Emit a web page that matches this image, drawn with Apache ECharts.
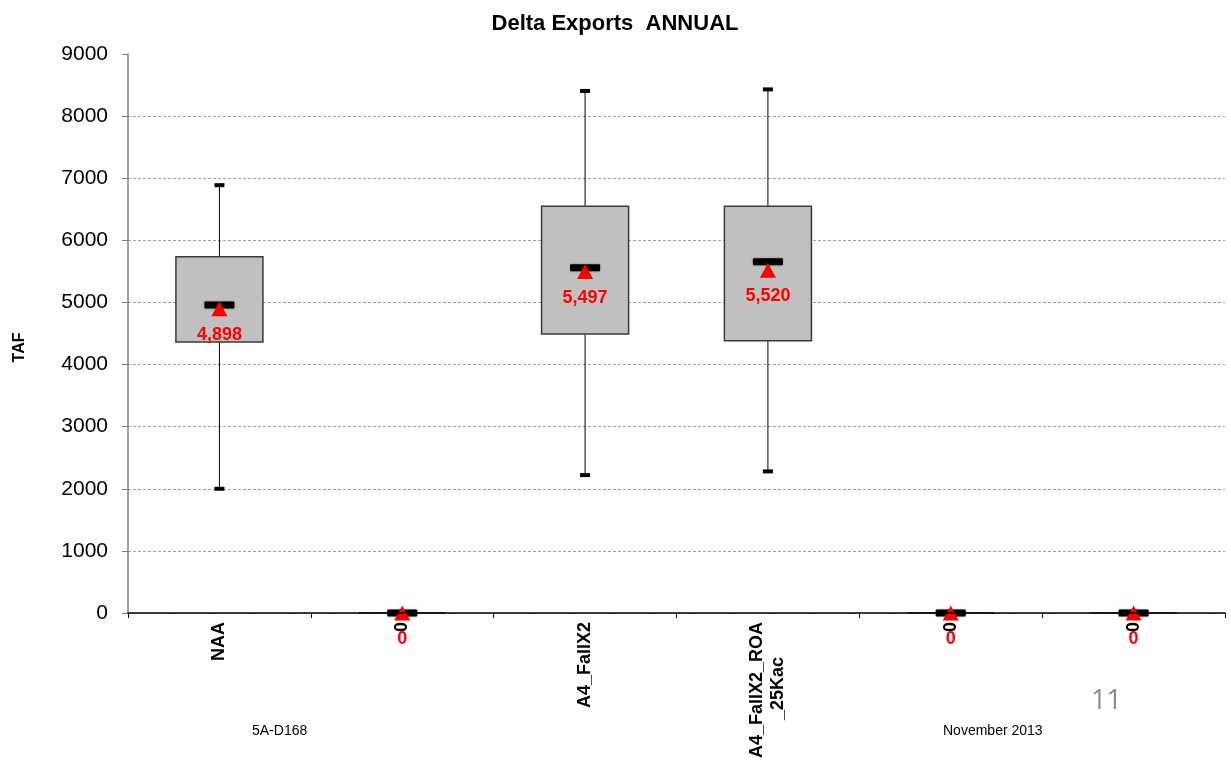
<!DOCTYPE html>
<html>
<head>
<meta charset="utf-8">
<script src="https://cdn.jsdelivr.net/npm/echarts@6/dist/echarts.min.js"></script>
<style>
html,body{margin:0;padding:0;background:#fff;}
#chart{width:1231px;height:763px;}
</style>
</head>
<body>
<div id="chart"></div>
<script>
const categories = ['NAA', '0', 'A4_FallX2', 'A4_FallX2_ROA\n_25Kac', '0', '0'];
const mins    = [2000, 0, 2220, 2280, 0, 0];
const q1s     = [4365, 0, 4492, 4384, 0, 0];
const medians = [4960, 0, 5560, 5656, 0, 0];
const q3s     = [5737, 0, 6550, 6550, 0, 0];
const maxs    = [6888, 0, 8405, 8430, 0, 0];
const means   = [4898, 0, 5497, 5520, 0, 0];
const yTicks  = [0, 1000, 2000, 3000, 4000, 5000, 6000, 7000, 8000, 9000];

const data = categories.map((c, i) => [i, mins[i], q1s[i], medians[i], q3s[i], maxs[i], means[i]]);

function renderItem(params, api) {
  const i = api.value(0);
  const pMin = api.coord([i, api.value(1)]);
  const pQ1 = api.coord([i, api.value(2)]);
  const pMed = api.coord([i, api.value(3)]);
  const pQ3 = api.coord([i, api.value(4)]);
  const pMax = api.coord([i, api.value(5)]);
  const pMean = api.coord([i, api.value(6)]);
  const band = api.size([1, 0])[0];
  const x = pMed[0];
  const bw = band * 0.476;
  const meanVal = api.value(6);
  return {
    type: 'group',
    children: [
      { type: 'line', shape: { x1: x, y1: pMax[1], x2: x, y2: pQ3[1] }, style: { stroke: '#000', lineWidth: 1 } },
      { type: 'line', shape: { x1: x, y1: pQ1[1], x2: x, y2: pMin[1] }, style: { stroke: '#000', lineWidth: 1 } },
      { type: 'rect', shape: { x: x - bw / 2, y: pQ3[1], width: bw, height: pQ1[1] - pQ3[1] },
        style: { fill: '#c0c0c0', stroke: '#3a3a3a', lineWidth: 1.5 } },
      { type: 'rect', shape: { x: x - 5, y: pMax[1] - 2, width: 10, height: 4 }, style: { fill: '#000' } },
      { type: 'rect', shape: { x: x - 5, y: pMin[1] - 2, width: 10, height: 4 }, style: { fill: '#000' } },
      { type: 'rect', shape: { x: x - 15, y: pMed[1] - 3.5, width: 30, height: 7, r: 1 },
        style: { fill: '#000', shadowBlur: 2, shadowColor: 'rgba(0,0,0,0.4)' } },
      { type: 'polygon', shape: { points: [[x, pMean[1] - 7.5], [x + 8, pMean[1] + 7.5], [x - 8, pMean[1] + 7.5]] },
        style: { fill: '#ff0000' } },
      { type: 'text', style: { x: x, y: pMean[1] + 26, text: meanVal.toLocaleString('en-US'),
        fill: '#ff0000', font: 'bold 18px "Liberation Sans", Arial, sans-serif', align: 'center', verticalAlign: 'middle' } }
    ]
  };
}

const chart = echarts.init(document.getElementById('chart'), null, { renderer: 'canvas' });
chart.setOption({
  animation: false,
  backgroundColor: '#fff',
  title: {
    text: 'Delta Exports  ANNUAL', left: 610, top: 8, textAlign: 'center',
    textStyle: { fontFamily: '"Liberation Sans", Arial, sans-serif', fontWeight: 'bold', fontSize: 22, color: '#000' }
  },
  grid: { left: 128, right: 6, top: 54, bottom: 150, outerBoundsMode: 'none', containLabel: false },
  xAxis: {
    type: 'category', data: categories, boundaryGap: true, z: 5,
    axisLine: { lineStyle: { color: '#000', width: 1.5 } },
    axisTick: { show: true, length: 5, lineStyle: { color: '#000' } },
    axisLabel: {
      rotate: 90, margin: 9, interval: 0, color: '#000', fontWeight: 'bold', fontSize: 18, lineHeight: 21,
      fontFamily: '"Liberation Sans", Arial, sans-serif',
      formatter: v => v.replace('\n_25Kac', '\n_25Kac       ')
    }
  },
  yAxis: {
    type: 'value', min: 0, max: 9000, interval: 1000,
    name: 'TAF', nameLocation: 'middle', nameGap: 100,
    nameTextStyle: { fontFamily: '"Liberation Sans", Arial, sans-serif', fontWeight: 'bold', fontSize: 16, color: '#000',
      padding: [0, 28, 0, 0] },
    axisLine: { show: true, lineStyle: { color: '#808080', width: 1.5 } },
    axisTick: { show: true, length: 6, lineStyle: { color: '#808080' } },
    axisLabel: {
      margin: 20, color: '#000', fontSize: 21, fontFamily: '"Liberation Sans", Arial, sans-serif',
      formatter: v => yTicks.includes(v) ? String(v) : ''
    },
    splitLine: { show: true, showMaxLine: false, lineStyle: { color: '#a0a0a0', type: [3, 2], width: 1 } }
  },
  graphic: [
    { type: 'text', left: 252, top: 724, style: { text: '5A-D168', fill: '#000', font: '14px "Liberation Sans", Arial, sans-serif' } },
    { type: 'text', left: 943, top: 724, style: { text: 'November 2013', fill: '#000', font: '14px "Liberation Sans", Arial, sans-serif' } },
    { type: 'text', left: 1091, top: 688, style: { text: '11', fill: '#8c8c8c', font: '27px "Open Sans", "Liberation Sans", sans-serif' } }
  ],
  series: [{
    type: 'custom', renderItem: renderItem, data: data, clip: false,
    encode: { x: 0, y: [1, 2, 3, 4, 5, 6] }
  }]
});
</script>
</body>
</html>
